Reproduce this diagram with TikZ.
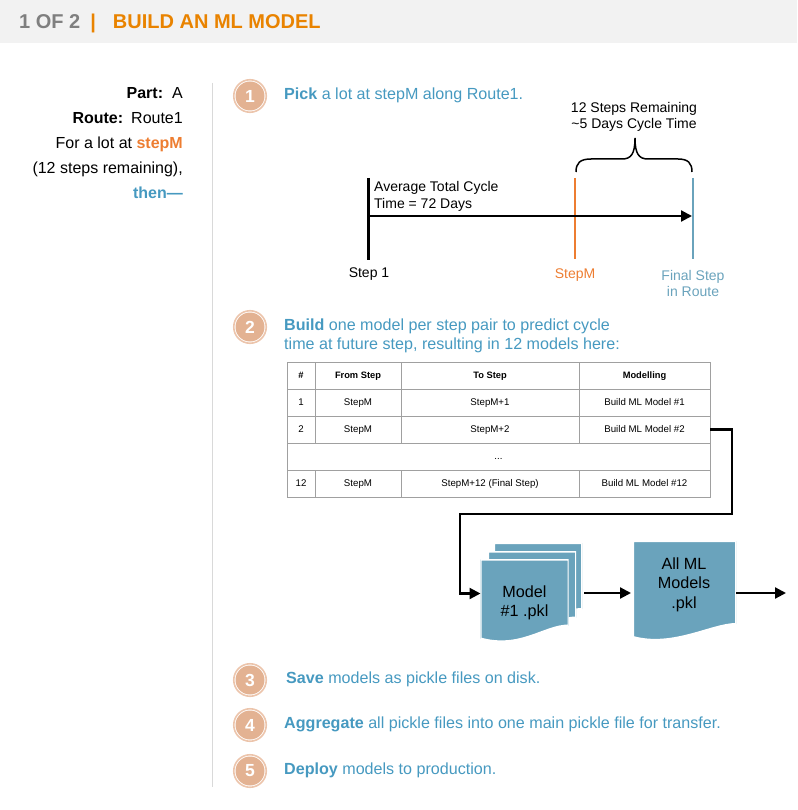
\documentclass[tikz,border=0pt]{standalone}
\usepackage{fontspec}
\setmainfont{Liberation Sans}
\usetikzlibrary{arrows.meta, positioning}
\definecolor{headgray}{RGB}{242,242,242}
\definecolor{headtext}{RGB}{127,127,127}
\definecolor{headorange}{RGB}{233,131,0}
\definecolor{stepblue}{RGB}{70,153,192}
\definecolor{stepM}{RGB}{237,125,49}
\definecolor{docblue}{RGB}{106,163,188}
\definecolor{badge}{RGB}{227,178,146}
\definecolor{badgerim}{RGB}{236,197,172}
\definecolor{rule}{RGB}{217,217,217}
\definecolor{cellline}{RGB}{160,160,160}
\tikzstyle{steptext} = [anchor=west, align=left, inner sep=0pt, font=\fontsize{16.1}{19}\selectfont, text=stepblue]
\tikzstyle{note}     = [align=center, inner sep=0pt, font=\fontsize{14}{16.5}\selectfont]
\tikzstyle{badgeno}  = [circle, minimum size=29pt, inner sep=0pt, fill=badge, draw=none,
                        text=white, font=\fontsize{17.5}{17.5}\selectfont\bfseries]
\tikzstyle{badgeout} = [circle, minimum size=32.5pt, inner sep=0pt, draw=badgerim, line width=1.6pt]
\tikzstyle{cell}     = [rectangle, draw=cellline, outer sep=0pt, inner sep=0pt, minimum height=27pt, line width=0.9pt,
                        text centered, text height=6.5pt, text depth=1.5pt, font=\fontsize{9.7}{10}\selectfont]
\tikzstyle{headcell} = [font=\fontsize{9.3}{10}\selectfont\bfseries]
\tikzstyle{nocol}    = [cell, minimum width=28pt]
\tikzstyle{fromcol}  = [cell, minimum width=86pt]
\tikzstyle{tocol}    = [cell, minimum width=178pt]
\tikzstyle{modelcol} = [cell, minimum width=131pt]
\tikzstyle{pkl}      = [rectangle, inner sep=0pt, outer sep=0pt,
                        path picture={
                          \filldraw[fill=docblue, draw=white, line width=2pt]
                            (path picture bounding box.north west) -- (path picture bounding box.north east)
                            -- ([yshift=18pt]path picture bounding box.south east)
                            .. controls ([xshift=-24pt,yshift=18pt]path picture bounding box.south east)
                            and ([xshift=40pt,yshift=-6pt]path picture bounding box.south west)
                            .. ([yshift=5pt]path picture bounding box.south west) -- cycle;}]
\tikzstyle{pkltext}  = [inner sep=0pt, align=center, font=\fontsize{16.2}{19.5}\selectfont]
\tikzstyle{arrow}    = [line width=2.2pt, -{Triangle[length=11pt,width=11pt]}]
\tikzstyle{tick}     = [line width=2pt]
\begin{document}
\begin{tikzpicture}[x=1pt, y=-1pt]
  \useasboundingbox (0,0) rectangle (797,810);

  % header
  \node (header) [rectangle, fill=headgray, minimum width=797pt, minimum height=43pt, inner sep=0pt, anchor=north west] at (0,0) {};
  \node (headline) [anchor=west, inner sep=0pt, font=\fontsize{20}{20}\selectfont\bfseries, text=headtext] at (19,23)
        {1 OF 2\hspace{10pt}{\color{headorange}|\hspace{17pt}BUILD AN ML MODEL}};

  % left column
  \coordinate (ruletop) at (212,83);
  \coordinate (rulebot) at (212,787);
  \draw[rule, line width=1pt] (ruletop) -- (rulebot);
  \node (partinfo) [anchor=north east, align=right, inner sep=0pt, font=\fontsize{16}{25}\selectfont] at (183,87)
        {\textbf{Part:}\hspace{9pt}A\\
         \textbf{Route:}\hspace{8pt}Route1\\
         For a lot at \textbf{\color{stepM}stepM}\\
         (12 steps remaining),\\
         \textbf{\color{stepblue}then---}};

  % step 1
  \node (ring1) [badgeout] at (250,96) {};
  \node (badge1) [badgeno] at (ring1) {1};
  \node (pick) [steptext] at (284,95.5) {\textbf{Pick} a lot at stepM along Route1.};

  \coordinate (startTop) at (368,178);
  \coordinate (startBot) at (368,260);
  \coordinate (axisEnd)  at (692,216);
  \coordinate (axisBeg)  at (368,216);
  \coordinate (mTop)     at (575,178);
  \coordinate (mBot)     at (575,259);
  \coordinate (finTop)   at (693,178);
  \coordinate (finBot)   at (693,259);
  \draw[stepM, tick] (mTop) -- (mBot);
  \draw[docblue, tick] (finTop) -- (finBot);
  \draw[line width=3pt] (startTop) -- (startBot);
  \draw[arrow] (axisBeg) -- (axisEnd);

  \node (avg)   [note, anchor=west, align=left] at (374,196.5) {Average Total Cycle\\Time = 72 Days};
  \node (remain) [note] at (634,117) {12 Steps Remaining\\\textasciitilde5 Days Cycle Time};
  \node (step1) [note] at (369,274) {Step 1};
  \node (stepm) [note, text=stepM] at (575,275) {StepM};
  \node (final) [note, text=docblue] at (693,283.5) {Final Step\\in Route};

  \coordinate (braceL) at (576,172);
  \coordinate (braceR) at (692,172);
  \coordinate (braceT) at (635,138);
  \draw[line width=1.5pt] (braceL) .. controls (576,163) and (580,159) .. (591,159) -- (622,159)
        .. controls (631,159) and (635,154) .. (braceT)
        .. controls (635,154) and (639,159) .. (648,159) -- (678,159)
        .. controls (688,159) and (692,163) .. (braceR);

  % step 2
  \node (ring2) [badgeout] at (250,327) {};
  \node (badge2) [badgeno] at (ring2) {2};
  \node (build) [steptext] at (284,336) {\textbf{Build} one model per step pair to predict cycle\\time at future step, resulting in 12 models here:};

  % table
  \node (h1) [nocol, headcell, anchor=north west] at (287,362) {\#};
  \node (h2) [fromcol, headcell, right=0pt of h1] {From Step};
  \node (h3) [tocol, headcell, right=0pt of h2] {To Step};
  \node (h4) [modelcol, headcell, right=0pt of h3] {Modelling};
  \node (a1) [nocol, below=0pt of h1] {1};
  \node (a2) [fromcol, right=0pt of a1] {StepM};
  \node (a3) [tocol, right=0pt of a2] {StepM+1};
  \node (a4) [modelcol, right=0pt of a3] {Build ML Model \#1};
  \node (b1) [nocol, below=0pt of a1] {2};
  \node (b2) [fromcol, right=0pt of b1] {StepM};
  \node (b3) [tocol, right=0pt of b2] {StepM+2};
  \node (b4) [modelcol, right=0pt of b3] {Build ML Model \#2};
  \node (gap) [cell, minimum width=423pt, below=0pt of b1.south west, anchor=north west] {...};
  \node (c1) [nocol, below=27pt of b1] {12};
  \node (c2) [fromcol, right=0pt of c1] {StepM};
  \node (c3) [tocol, right=0pt of c2] {StepM+12 (Final Step)};
  \node (c4) [modelcol, right=0pt of c3] {Build ML Model \#12};

  % pickle files
  \node (back)  [pkl, minimum width=88pt, minimum height=84pt, anchor=north west] at (494,543) {};
  \node (mid)   [pkl, minimum width=88pt, minimum height=84pt, anchor=north west] at (488,551.5) {};
  \node (front) [pkl, minimum width=88pt, minimum height=84pt, anchor=north west] at (480.5,559.5) {};
  \node (fronttext) [pkltext] at (524.5,603) {Model\\\#1 .pkl};
  \node (allpkl) [pkl, minimum width=103pt, minimum height=101pt, anchor=north west] at (633,541) {};
  \node (alltext) [pkltext] at (684,584.5) {All ML\\Models\\.pkl};

  \coordinate (turnR) at (732,514);
  \coordinate (turnL) at (460,514);
  \coordinate (stackOut) at (584,593);
  \coordinate (finalOut) at (786,593);
  \draw[arrow] (b4.east) -| (turnR) -- (turnL) |- ([yshift=8pt]front.west);
  \draw[arrow, shorten >=2pt] (stackOut) -- (stackOut -| allpkl.west);
  \draw[arrow] (stackOut -| allpkl.east) -- (finalOut);

  % steps 3 to 5
  \node (ring3) [badgeout] at (250,680) {};
  \node (badge3) [badgeno] at (ring3) {3};
  \node (save) [steptext] at (286,679.5) {\textbf{Save} models as pickle files on disk.};
  \node (ring4) [badgeout] at (250,725) {};
  \node (badge4) [badgeno] at (ring4) {4};
  \node (aggr) [steptext] at (284,724.5) {\textbf{Aggregate} all pickle files into one main pickle file for transfer.};
  \node (ring5) [badgeout] at (250,771) {};
  \node (badge5) [badgeno] at (ring5) {5};
  \node (deploy) [steptext] at (284,770.5) {\textbf{Deploy} models to production.};
\end{tikzpicture}
\end{document}
